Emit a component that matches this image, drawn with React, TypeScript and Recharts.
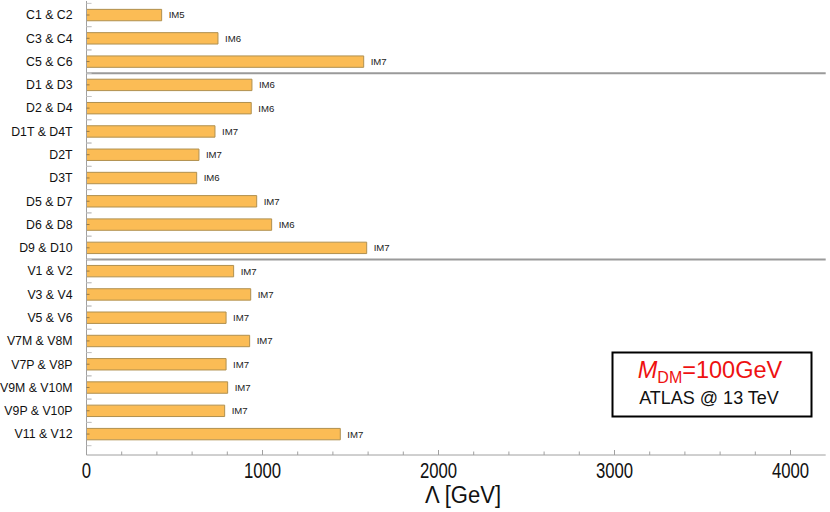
import React from "react";
import {
  BarChart,
  Bar,
  XAxis,
  YAxis,
  ReferenceLine,
  LabelList,
} from "recharts";

const categories = [
  "C1 & C2", "C3 & C4", "C5 & C6",
  "D1 & D3", "D2 & D4", "D1T & D4T", "D2T", "D3T", "D5 & D7", "D6 & D8", "D9 & D10",
  "V1 & V2", "V3 & V4", "V5 & V6", "V7M & V8M", "V7P & V8P", "V9M & V10M", "V9P & V10P", "V11 & V12",
];
const lambdaValues = [
  427, 747, 1575,
  940, 936, 730, 639, 626, 967, 1052, 1592,
  836, 933, 793, 927, 793, 802, 785, 1442,
];
const operatorLabels = [
  "IM5", "IM6", "IM7",
  "IM6", "IM6", "IM7", "IM7", "IM6", "IM7", "IM6", "IM7",
  "IM7", "IM7", "IM7", "IM7", "IM7", "IM7", "IM7", "IM7",
];
const xTicks = [0, 200, 400, 600, 800, 1000, 1200, 1400, 1600, 1800, 2000, 2200, 2400, 2600, 2800, 3000, 3200, 3400, 3600, 3800, 4000];
const groupEnds = ["C5 & C6", "D9 & D10"];

const data = categories.map((c, i) => ({ name: c, value: lambdaValues[i], im: operatorLabels[i] }));

const W = 830;
const H = 512;
const PAD_TOP = 2.36;
const PAD_BOTTOM = 9.3;
const BAND = (454 - PAD_TOP - PAD_BOTTOM) / categories.length;
const FRAME = "#a0a0a0";
const SANS = "'Liberation Sans', Arial, sans-serif";

const BottomTick = (props: any) => {
  const { x, y, payload } = props;
  const major = payload.value % 1000 === 0;
  const s = String(payload.value);
  return (
    <g>
      <line x1={x} x2={x} y1={y} y2={y - (major ? 5 : 3.5)} stroke={FRAME} />
      {major && (
        <text
          x={x}
          y={y + 23}
          textAnchor="middle"
          fontFamily={SANS}
          fontSize={22}
          fill="#111"
          textLength={s.length * 9.3}
          lengthAdjust="spacingAndGlyphs"
        >
          {s}
        </text>
      )}
    </g>
  );
};

const TopTick = (props: any) => {
  const { x, y, payload } = props;
  const major = payload.value % 1000 === 0;
  return <line x1={x} x2={x} y1={y} y2={y + (major ? 5 : 3.5)} stroke={FRAME} />;
};

const LeftTick = (props: any) => {
  const { x, y, payload } = props;
  return (
    <g>
      <line x1={x} x2={x + 5} y1={y - BAND / 2} y2={y - BAND / 2} stroke="#c4c4c4" />
      <line x1={x} x2={x + 5} y1={y + BAND / 2} y2={y + BAND / 2} stroke="#c4c4c4" />
      <line x1={x} x2={x + 3} y1={y} y2={y} stroke="#9a7a40" />
      <text x={x - 14} y={y} dy={4.3} textAnchor="end" fontFamily={SANS} fontSize={12.3} fill="#111">
        {payload.value}
      </text>
    </g>
  );
};

const RightTick = (props: any) => {
  const { x, y } = props;
  return (
    <g>
      <line x1={x} x2={x - 4} y1={y - BAND / 2} y2={y - BAND / 2} stroke={FRAME} />
      <line x1={x} x2={x - 3} y1={y} y2={y} stroke={FRAME} />
    </g>
  );
};

const AxisTitle = (props: any) => {
  const { viewBox } = props;
  const cx = viewBox.x + viewBox.width / 2;
  return (
    <text
      x={cx + 7}
      y={503}
      textAnchor="middle"
      fontFamily={SANS}
      fontSize={23}
      fill="#111"
      textLength={76}
      lengthAdjust="spacingAndGlyphs"
    >
      Λ [GeV]
    </text>
  );
};

export default function App() {
  return (
    <div style={{ position: "absolute", left: 0, top: 0, width: W, height: H, background: "#fff" }}>
      <BarChart
        width={W}
        height={H}
        data={data}
        layout="vertical"
        margin={{ top: 1, right: 4.3, bottom: 0, left: 0 }}
      >
        <XAxis
          type="number"
          domain={[0, 4200]}
          ticks={xTicks}
          interval={0}
          tickSize={0}
          tickMargin={0}
          tickLine={false}
          axisLine={{ stroke: FRAME }}
          tick={<BottomTick />}
          height={57}
          label={<AxisTitle />}
        />
        <XAxis
          xAxisId="top"
          orientation="top"
          type="number"
          domain={[0, 4200]}
          ticks={xTicks}
          interval={0}
          tickSize={0}
          tickMargin={0}
          tickLine={false}
          axisLine={{ stroke: FRAME }}
          tick={<TopTick />}
          height={0}
        />
        <YAxis
          type="category"
          dataKey="name"
          width={86.5}
          interval={0}
          tickSize={0}
          tickMargin={0}
          tickLine={false}
          axisLine={{ stroke: FRAME }}
          tick={<LeftTick />}
          padding={{ top: PAD_TOP, bottom: PAD_BOTTOM }}
        />
        <YAxis
          yAxisId="right"
          orientation="right"
          type="category"
          dataKey="name"
          width={0}
          interval={0}
          tickSize={0}
          tickMargin={0}
          tickLine={false}
          axisLine={{ stroke: FRAME }}
          tick={<RightTick />}
          padding={{ top: PAD_TOP, bottom: PAD_BOTTOM }}
        />
        <Bar
          dataKey="value"
          fill="#FBBC55"
          stroke="#B0904F"
          strokeWidth={1}
          barSize={11.4}
          isAnimationActive={false}
        >
          <LabelList dataKey="im" position="right" offset={7} fontFamily={SANS} fontSize={9.6} fill="#222" />
        </Bar>
        {groupEnds.map((s) => (
          <ReferenceLine key={s} y={s} position="end" stroke="#9a9a9a" strokeWidth={2} />
        ))}
      </BarChart>
      <svg width={W} height={H} style={{ position: "absolute", left: 0, top: 0, pointerEvents: "none" }}>
        <rect x={612.5} y={352.5} width={199} height={64} fill="#fff" stroke="#000" strokeWidth={2} />
        <text x={710} y={378} textAnchor="middle" fontFamily={SANS} fontSize={23.5} fill="#ee1111">
          <tspan fontStyle="italic">M</tspan>
          <tspan fontSize={16} dy={5}>DM</tspan>
          <tspan dy={-5}>=100GeV</tspan>
        </text>
        <text x={709} y={404} textAnchor="middle" fontFamily={SANS} fontSize={18} fill="#111">
          ATLAS @ 13 TeV
        </text>
      </svg>
    </div>
  );
}
